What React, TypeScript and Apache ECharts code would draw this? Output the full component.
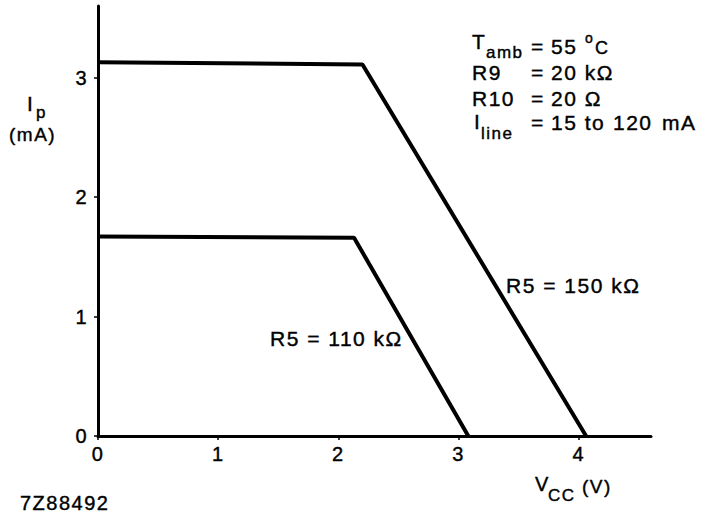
import React, { useEffect, useRef } from "react";
import * as echarts from "echarts";

const xTicks = [0, 1, 2, 3, 4];
const yTicks = [0, 1, 2, 3];
const curve150 = [
  [0, 3.13],
  [2.2, 3.11],
  [4.06, 0],
];
const curve110 = [
  [0, 1.67],
  [2.13, 1.66],
  [3.08, 0],
];
const curveNames = ["R5 = 150 kΩ", "R5 = 110 kΩ"];
const figureCode = "7Z88492";

const FONT = "'Liberation Sans', Arial, Helvetica, sans-serif";

function t(text: string, x: number, y: number, size: number, align: string = "left") {
  return {
    type: "text",
    style: {
      text,
      x,
      y,
      fontSize: size,
      fontFamily: FONT,
      fill: "#000",
      stroke: "#000",
      lineWidth: 0.4,
      align,
      verticalAlign: "middle",
    },
    silent: true,
  };
}

export default function App() {
  const ref = useRef<HTMLDivElement>(null);
  useEffect(() => {
    if (!ref.current) return;
    const chart = echarts.init(ref.current, undefined, { renderer: "svg" });
    const labelStyle = {
      color: "#000",
      fontSize: 20,
      fontFamily: FONT,
      textBorderColor: "#000",
      textBorderWidth: 0.4,
    };
    chart.setOption({
      animation: false,
      backgroundColor: "#fff",
      grid: { left: 98, right: 70, top: 6, bottom: 82 },
      xAxis: {
        type: "value",
        min: 0,
        max: 4.6,
        splitLine: { show: false },
        axisLine: { show: true, lineStyle: { color: "#000", width: 3 } },
        axisTick: { show: true, length: 4, customValues: xTicks, lineStyle: { color: "#000", width: 1.5 } },
        axisLabel: { ...labelStyle, customValues: xTicks, margin: 8 },
      },
      yAxis: {
        type: "value",
        min: 0,
        max: 3.6,
        splitLine: { show: false },
        axisLine: { show: true, lineStyle: { color: "#000", width: 3 } },
        axisTick: { show: true, length: 4, customValues: yTicks, lineStyle: { color: "#000", width: 1.5 } },
        axisLabel: { ...labelStyle, customValues: yTicks, margin: 10 },
      },
      series: [
        {
          name: curveNames[0],
          type: "line",
          data: curve150,
          symbol: "none",
          lineStyle: { color: "#000", width: 4 },
        },
        {
          name: curveNames[1],
          type: "line",
          data: curve110,
          symbol: "none",
          lineStyle: { color: "#000", width: 4 },
        },
      ],
      graphic: [
        t("I", 27, 103, 21),
        t("p", 36, 112, 17),
        t("(mA)", 9, 134, 19),
        t("T", 472, 41, 21),
        t("amb", 486, 52, 17),
        t("=", 531, 46, 21),
        t("55", 551, 46, 21),
        t("o", 585, 38, 14),
        t("C", 595, 48, 18),
        t("R9", 472, 72, 21),
        t("=", 531, 72, 21),
        t("20 kΩ", 551, 72, 21),
        t("R10", 472, 98, 21),
        t("=", 531, 98, 21),
        t("20 Ω", 551, 98, 21),
        t("I", 474, 121, 21),
        t("line", 481, 133, 17),
        t("=", 531, 122, 21),
        t("15 to", 551, 122, 21),
        t("120", 613, 122, 21),
        t("mA", 662, 122, 21),
        t(curveNames[0], 506, 285, 21),
        t(curveNames[1], 270, 338, 21),
        t(figureCode, 20, 503, 20),
        t("V", 535, 484, 20),
        t("CC", 548, 495, 17),
        t("(V)", 582, 486, 19),
      ],
    });
    return () => chart.dispose();
  }, []);
  return (
    <div
      ref={ref}
      style={{ position: "absolute", left: 0, top: 0, width: 721, height: 518, letterSpacing: "1.5px" }}
    />
  );
}
